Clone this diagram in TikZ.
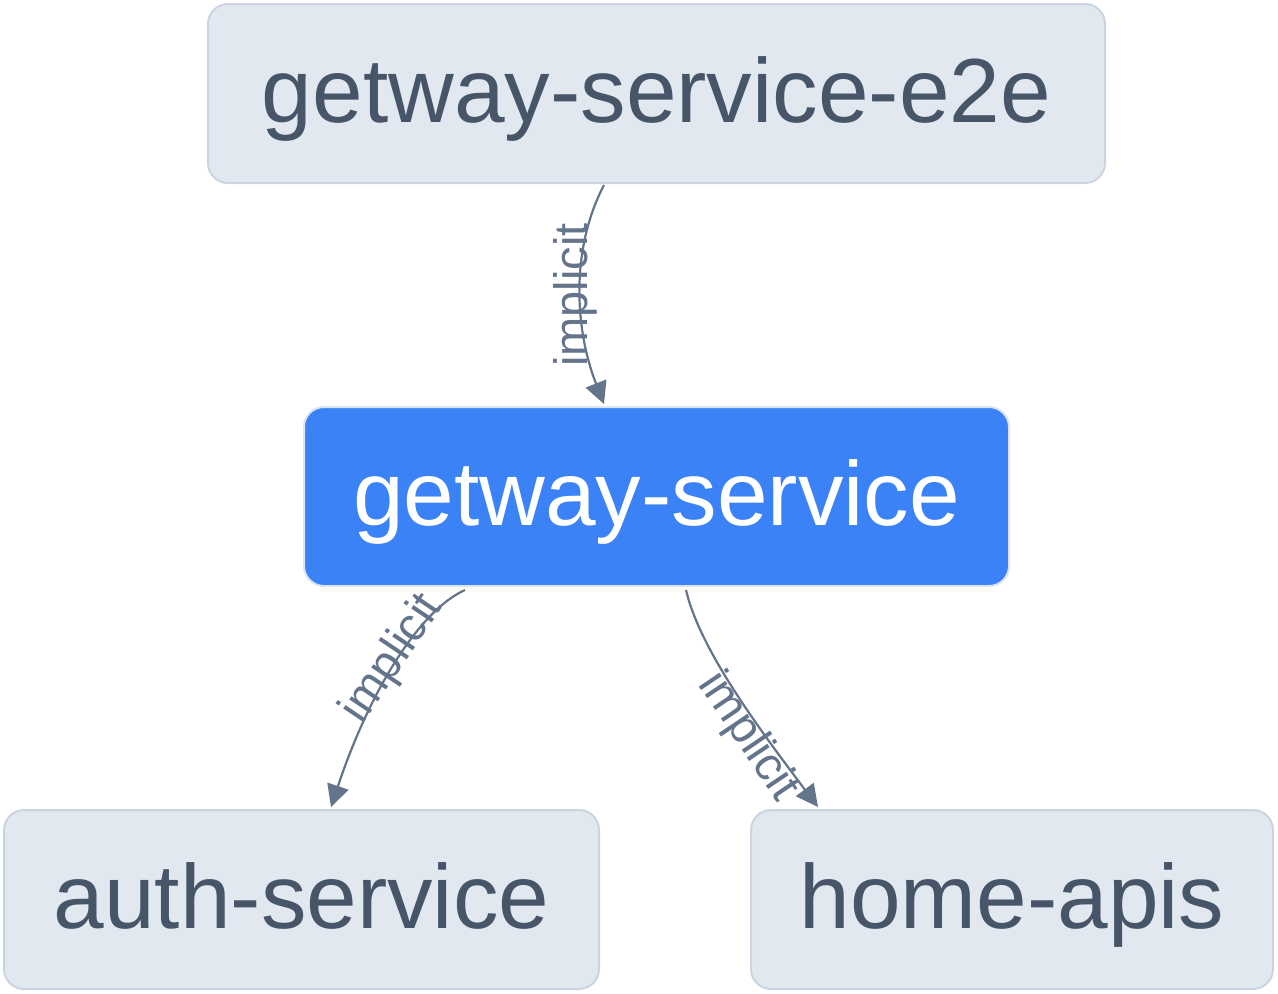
\documentclass[tikz,border=0pt]{standalone}
\usepackage{fontspec}
\setmainfont{Liberation Sans}
\usetikzlibrary{arrows.meta,calc}
\definecolor{boxfill}{HTML}{E2E8F0}
\definecolor{boxline}{HTML}{CBD5E1}
\definecolor{boxtext}{HTML}{475569}
\definecolor{hifill}{HTML}{3B82F6}
\definecolor{hiline}{HTML}{DBE4F0}
\definecolor{edgecol}{HTML}{64748B}
\tikzset{
  svc/.style={draw=boxline, fill=boxfill, text=boxtext, line width=1pt,
    rounded corners=10pt, minimum height=89.5pt, inner sep=0pt,
    text height=29pt, text depth=0pt,
    font=\fontsize{45.5pt}{50pt}\selectfont},
  focus/.style={svc, draw=hiline, fill=hifill, text=white},
  dep/.style={draw=edgecol, line width=1.1pt,
    -{Triangle[length=11pt,width=11pt]}},
  deplabel/.style={text=edgecol, inner sep=0pt,
    font=\fontsize{23.5pt}{26pt}\selectfont}
}
\begin{document}
\begin{tikzpicture}[x=0.5pt,y=-0.5pt]
\useasboundingbox (0,0) rectangle (1278,993);
\node[svc, minimum width=448.5pt] (top) at (656.5,93.5) {getway-service-e2e};
\node[focus, minimum width=352.5pt] (mid) at (656.5,496.5) {getway-service};
\node[svc, minimum width=297.5pt] (left) at (301.5,899.5) {auth-service};
\node[svc, minimum width=261pt] (right) at (1012,899.5) {home-apis};

\draw[dep] ($(top.south)+(-52.5,1)$) .. controls (570,250) and (575,330) .. ($(mid.north)+(-52.5,-2)$);
\draw[dep] ($(mid.south)+(-191.5,3)$) .. controls (420,610) and (370,690) .. ($(left.north)+(29.5,-2)$);
\draw[dep] ($(mid.south)+(29.5,3)$) .. controls (700,650) and (760,730) .. ($(right.north)+(-194,-2)$);

\node[deplabel, rotate=90] (l1) at (575,295) {implicit};
\node[deplabel, rotate=56] (l2) at (393,659) {implicit};
\node[deplabel, rotate=-56] (l3) at (748,737) {implicit};
\end{tikzpicture}
\end{document}
